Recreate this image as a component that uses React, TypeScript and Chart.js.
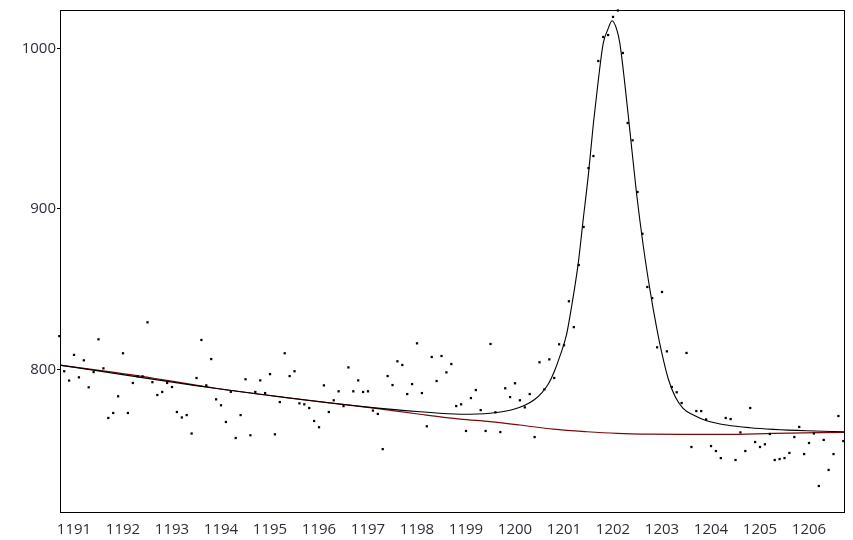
import React, { useEffect, useRef } from 'react';
import { Chart, registerables } from 'chart.js';

Chart.register(...registerables);

// measured points: x starts at 1190.7, step 0.1
const X_START = 1190.7;
const X_STEP = 0.1;
const counts: number[] = [
  820.7, 798.8, 793, 809, 795, 805.6, 788.8, 798.3, 818.7, 800.6,
  769.7, 772.8, 783.2, 810, 772.8, 791.5, 795.6, 795.6, 829.3, 792,
  784, 785.9, 791.5, 789, 773.4, 770, 771.5, 760, 794.6, 818.3,
  790, 806.4, 781.3, 777.6, 767.2, 786, 757.2, 771.5, 793.8, 758.9,
  785.9, 793.1, 785.2, 797, 759.5, 779.6, 810, 795.8, 798.8, 778.8,
  778.2, 775.9, 767.8, 763.9, 790, 773.4, 780.7, 786.3, 777.1, 801.2,
  786.3, 793.1, 785.9, 786.3, 774.3, 772.2, 750.3, 795.8, 790.2, 805,
  802.7, 784.6, 790.8, 816.2, 785.2, 764.5, 807.7, 792.7, 808.3, 798.1,
  803.3, 777.1, 778.2, 761.6, 782.1, 787.1, 774.6, 761.6, 815.8, 773.2,
  760.9, 788.2, 782.7, 791.3, 780.7, 776.3, 784.6, 757.8, 804.4, 787.5,
  806.2, 794.6, 815.6, 815, 842.4, 826.3, 865, 888.7, 925.4, 932.9,
  992.1, 1007.1, 1008.3, 1019.6, 1023.6, 997.1, 953.5, 942.7, 910.5, 884.5,
  851.3, 844.4, 813.7, 848.2, 811.2, 789, 785.7, 779, 810.2, 751.6,
  774, 774, 768.8, 752.2, 749.1, 744.7, 769.7, 769, 743.5, 760.7,
  749.1, 775.9, 754.7, 751.6, 753.3, 759.7, 743.5, 744.1, 744.7, 747.9,
  757.8, 764.1, 747.2, 754.1, 760, 727.3, 756, 737.3, 747.2, 770.9,
  755.3,
];

// fitted curve (peak + background)
const fitX: number[] = [
  1190.7, 1193.88, 1197.04, 1198.06, 1198.88, 1199.49, 1199.94, 1200.2, 1200.4, 1200.55,
  1200.68, 1200.8, 1200.92, 1201.05, 1201.16, 1201.29, 1201.39, 1201.5, 1201.6, 1201.7,
  1201.8, 1201.89, 1201.98, 1202.08, 1202.14, 1202.24, 1202.35, 1202.48, 1202.62, 1202.76,
  1202.89, 1202.99, 1203.13, 1203.27, 1203.43, 1203.64, 1203.91, 1204.32, 1204.8, 1205.27,
  1205.95, 1206.72,
];
const fitY: number[] = [
  802.7, 788.2, 776.3, 773.6, 772.0, 772.6, 774.8, 777.6, 781.2, 785.5,
  790.8, 798.5, 808.5, 821.4, 840.1, 866.0, 893.0, 922.1, 953.3, 980.2,
  1003.1, 1011.4, 1017.2, 1011.4, 1003.1, 978.2, 947.0, 909.7, 876.4, 848.4,
  826.0, 811.0, 793.8, 782.9, 775.7, 771.5, 768.0, 765.3, 763.6, 762.6,
  761.7, 761.1,
];

// background
const baseX: number[] = [
  1190.7, 1192.35, 1193.88, 1195.41, 1197.04, 1198.06, 1198.88, 1199.49, 1200.1, 1200.78,
  1201.47, 1202.08, 1202.76, 1203.37, 1204.33, 1205.27, 1206.72,
];
const baseY: number[] = [
  802.7, 795.8, 788.2, 782.1, 776.1, 772.0, 769.0, 767.4, 765.3, 762.7,
  761.1, 760.1, 759.6, 759.5, 759.5, 760.1, 760.7,
];

const xTicks: number[] = [1191, 1192, 1193, 1194, 1195, 1196, 1197, 1198, 1199, 1200, 1201, 1202, 1203, 1204, 1205, 1206];
const yTicks: number[] = [800, 900, 1000];

const framePlugin = {
  id: 'frame',
  beforeDatasetsDraw(chart: any) {
    const { ctx, chartArea } = chart;
    const { left, top, right, bottom } = chartArea;
    ctx.save();
    ctx.strokeStyle = '#000';
    ctx.lineWidth = 1;
    ctx.strokeRect(Math.round(left) + 0.5, Math.round(top) + 0.5, Math.round(right - left), Math.round(bottom - top));
    ctx.restore();
  },
};

export default function App() {
  const ref = useRef<HTMLCanvasElement>(null);
  useEffect(() => {
    document.body.style.margin = '0';
    const canvas = ref.current!;
    const pts = counts.map((v, i) => ({ x: Math.round((X_START + i * X_STEP) * 10) / 10, y: v }));
    const fit = fitX.map((x, i) => ({ x, y: fitY[i] }));
    const base = baseX.map((x, i) => ({ x, y: baseY[i] }));
    const font = { family: '"Open Sans", sans-serif', size: 15 };
    const chart = new Chart(canvas, {
      type: 'scatter',
      data: {
        datasets: [
          {
            label: 'data',
            data: pts,
            pointStyle: 'rect',
            pointRadius: 1.6,
            pointBorderWidth: 0,
            pointBackgroundColor: '#000',
            pointBorderColor: '#000',
            showLine: false,
            clip: false,
          } as any,
          {
            label: 'fit',
            data: fit,
            showLine: true,
            borderColor: '#000',
            borderWidth: 1.1,
            pointRadius: 0,
            cubicInterpolationMode: 'monotone',
          } as any,
          {
            label: 'background',
            data: base,
            showLine: true,
            borderColor: '#7a0a0a',
            borderWidth: 1.2,
            pointRadius: 0,
            cubicInterpolationMode: 'monotone',
          } as any,
        ],
      },
      options: {
        responsive: false,
        animation: false,
        events: [],
        layout: { padding: { top: 10, right: 9, left: 0, bottom: 0 } },
        plugins: { legend: { display: false }, tooltip: { enabled: false } },
        scales: {
          x: {
            type: 'linear',
            min: 1190.714,
            max: 1206.714,
            border: { display: false },
            grid: { display: false, drawOnChartArea: false, tickLength: 0 },
            afterBuildTicks: (scale: any) => {
              scale.ticks = xTicks.map((v) => ({ value: v }));
            },
            afterFit: (scale: any) => {
              scale.height = 28;
            },
            ticks: {
              padding: 9,
              color: '#2e2e3a',
              font,
              maxRotation: 0,
              autoSkip: false,
              callback: (v: any) => String(v),
            },
          },
          y: {
            type: 'linear',
            min: 711.1,
            max: 1023.9,
            border: { display: false },
            grid: { display: true, drawOnChartArea: false, tickLength: 3, color: '#000', lineWidth: 1 },
            afterBuildTicks: (scale: any) => {
              scale.ticks = yTicks.map((v) => ({ value: v }));
            },
            afterFit: (scale: any) => {
              scale.width = 60;
            },
            ticks: {
              padding: 1,
              color: '#2e2e3a',
              font,
              autoSkip: false,
              callback: (v: any) => String(v),
            },
          },
        },
      },
      plugins: [framePlugin],
    } as any);
    return () => chart.destroy();
  }, []);
  return <canvas ref={ref} width={853} height={540} style={{ display: 'block', width: 853, height: 540 }} />;
}
